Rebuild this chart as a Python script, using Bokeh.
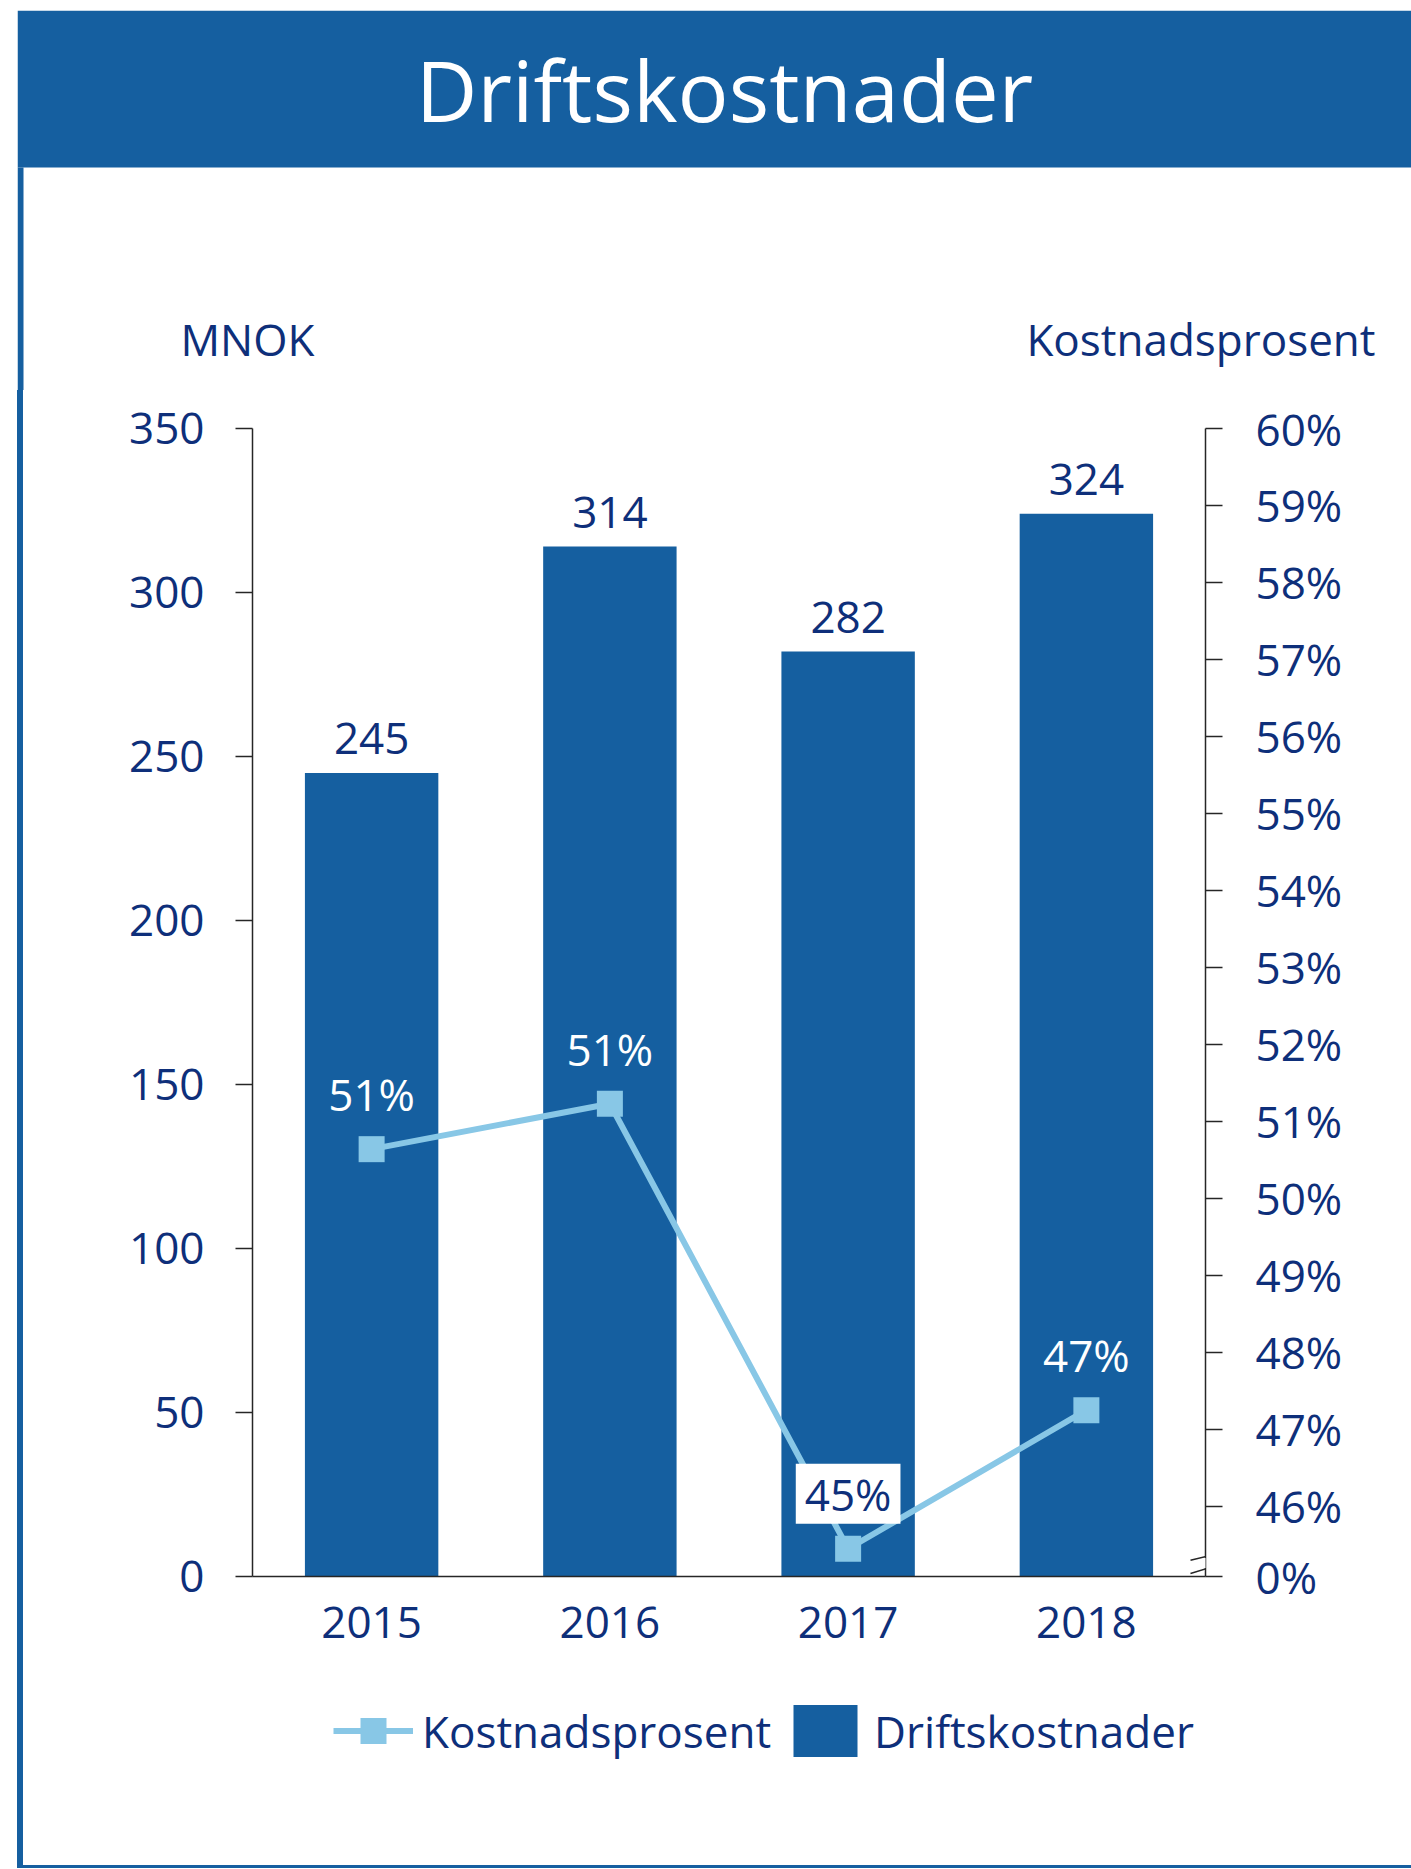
from bokeh.plotting import figure
from bokeh.models import (FactorRange, Range1d, LinearAxis, FixedTicker, CustomJSTickFormatter,
                          ColumnDataSource, Label, Legend, LegendItem, Arrow, CDSView, IndexFilter,
                          BoxAnnotation, Spacer)
from bokeh.layouts import column, row
from bokeh.embed import file_html
from bokeh.resources import INLINE
from bokeh.core.properties import value

# ---------------- data ----------------
title_text = "Driftskostnader"
years = ["2015", "2016", "2017", "2018"]
costs = [245, 314, 282, 324]                 # MNOK
cost_pct = [50.64, 51.23, 45.45, 47.25]      # Kostnadsprosent (%)
pct_labels = ["51%", "51%", "45%", "47%"]
left_ticks = [0, 50, 100, 150, 200, 250, 300, 350]
right_ticks = [46, 47, 48, 49, 50, 51, 52, 53, 54, 55, 56, 57, 58, 59, 60]
pct_axis_floor = 45.09                        # bottom of broken right axis, shown as 0%
left_axis_title = "MNOK"
right_axis_title = "Kostnadsprosent"
legend_labels = ["Kostnadsprosent", "Driftskostnader"]

# ---------------- style ----------------
BLUE = "#155fa0"
LIGHT = "#88c7e6"
NAVY = "#0e2f7a"
AXIS = "#262626"
FONT = "Open Sans"
FS = "44px"

# ---------------- header (title bar + axis titles) ----------------
HW, HH = 1394, 380
hf = figure(width=1411, height=390, x_range=Range1d(0, HW), y_range=Range1d(0, HH),
            x_axis_type=None, y_axis_type=None, toolbar_location=None, output_backend="svg",
            min_border_left=17, min_border_top=10, min_border_right=0, min_border_bottom=0,
            background_fill_color="white", border_fill_color="white", outline_line_color=None)
hf.grid.visible = False
hf.add_layout(BoxAnnotation(left=0, right=HW, bottom=HH - 157, top=HH, fill_color=BLUE,
                            fill_alpha=1, line_color=None))
hf.add_layout(BoxAnnotation(left=0, right=6, bottom=0, top=HH - 157, fill_color=BLUE,
                            fill_alpha=1, line_color=None))
hf.add_layout(Label(x=707, y=HH - 78, text=title_text, text_align="center", text_baseline="alphabetic",
                    text_font=FONT, text_font_size="85px", text_color="white"))
hf.add_layout(Label(x=163, y=52, text=left_axis_title, text_align="left", text_baseline="alphabetic",
                    text_font=FONT, text_font_size=FS, text_color=NAVY))
hf.add_layout(Label(x=1358, y=52, text=right_axis_title, text_align="right", text_baseline="alphabetic",
                    text_font=FONT, text_font_size=FS, text_color=NAVY))

# ---------------- main chart ----------------
MH = 1286
src = ColumnDataSource(dict(year=years, cost=costs, cost_label=[str(c) for c in costs],
                            pct=cost_pct, pct_label=pct_labels))

p = figure(x_range=FactorRange(factors=years), y_range=Range1d(left_ticks[0], left_ticks[-1]),
           width=1388, height=MH, toolbar_location=None, output_backend="svg",
           min_border_left=229, min_border_right=206, min_border_top=38, min_border_bottom=MH - 38 - 1148,
           background_fill_color="white", border_fill_color="white", outline_line_color=None)
p.grid.visible = False
p.extra_y_ranges = {"pct": Range1d(pct_axis_floor, right_ticks[-1])}

bar_r = p.vbar(x="year", top="cost", width=0.56, source=src, fill_color=BLUE, line_color=None)
line_r = p.line(x="year", y="pct", source=src, y_range_name="pct", line_color=LIGHT, line_width=6)
sc_r = p.scatter(x="year", y="pct", source=src, y_range_name="pct", marker="square", size=26,
                 fill_color=LIGHT, line_color=None)

p.text(x="year", y="cost", text="cost_label", source=src, y_offset=-34,
       text_align="center", text_baseline="alphabetic", text_font=value(FONT),
       text_font_size=FS, text_color=NAVY)

boxed = [i for i, v in enumerate(cost_pct) if v < right_ticks[0]]
plain = [i for i in range(len(cost_pct)) if i not in boxed]
p.text(x="year", y="pct", text="pct_label", source=src, view=CDSView(filter=IndexFilter(plain)),
       y_range_name="pct", y_offset=-55, text_align="center", text_baseline="alphabetic",
       text_font=value(FONT), text_font_size=FS, text_color="white")
p.text(x="year", y="pct", text="pct_label", source=src, view=CDSView(filter=IndexFilter(boxed)),
       y_range_name="pct", y_offset=-55, text_align="center", text_baseline="alphabetic",
       text_font=value(FONT), text_font_size=FS, text_color=NAVY,
       background_fill_color="white", padding=(9, 0))

# axes
xa = p.xaxis[0]
xa.axis_line_color = AXIS
xa.axis_line_width = 1.5
xa.major_tick_line_color = None
xa.minor_tick_line_color = None
xa.major_label_standoff = 24
xa.major_label_text_font = FONT
xa.major_label_text_font_size = FS
xa.major_label_text_color = NAVY

ya = p.yaxis[0]
ya.ticker = FixedTicker(ticks=left_ticks)
ya.axis_line_color = AXIS
ya.axis_line_width = 1.5
ya.major_tick_line_color = AXIS
ya.major_tick_line_width = 1.5
ya.major_tick_out = 17
ya.major_tick_in = 0
ya.minor_tick_line_color = None
ya.major_label_standoff = 31
ya.major_label_text_font = FONT
ya.major_label_text_font_size = FS
ya.major_label_text_color = NAVY

ra = LinearAxis(y_range_name="pct", ticker=FixedTicker(ticks=[pct_axis_floor] + right_ticks),
                formatter=CustomJSTickFormatter(args=dict(floor=pct_axis_floor),
                                                code="return tick <= floor + 0.01 ? '0%' : Math.round(tick) + '%';"))
ra.axis_line_color = AXIS
ra.axis_line_width = 1.5
ra.major_tick_line_color = AXIS
ra.major_tick_line_width = 1.5
ra.major_tick_out = 17
ra.major_tick_in = 0
ra.minor_tick_line_color = None
ra.major_label_standoff = 33
ra.major_label_text_font = FONT
ra.major_label_text_font_size = FS
ra.major_label_text_color = NAVY
p.add_layout(ra, "right")

# axis break marks on right axis
p.add_layout(Arrow(x_start=4.0, y_start=45.20, x_end=4.0, y_end=45.33, end=None,
                   line_color="white", line_width=4, y_range_name="pct"))
p.add_layout(Arrow(x_start=3.937, y_start=45.30, x_end=4.067, y_end=45.40, end=None,
                   line_color=AXIS, line_width=1.5, y_range_name="pct"))
p.add_layout(Arrow(x_start=3.937, y_start=45.13, x_end=4.067, y_end=45.25, end=None,
                   line_color=AXIS, line_width=1.5, y_range_name="pct"))

# ---------------- legend strip ----------------
# same series styles as legend keys only (renderers hidden, legend shows their keys)
LH = 189
lf = figure(width=1388, height=LH, x_range=FactorRange(factors=years), y_range=Range1d(0, 1),
            x_axis_type=None, y_axis_type=None, toolbar_location=None, output_backend="svg",
            min_border_left=229, min_border_right=206, min_border_top=0, min_border_bottom=0,
            background_fill_color="white", border_fill_color="white", outline_line_color=None)
lf.grid.visible = False
k_bar = lf.vbar(x="year", top="cost", width=0.56, source=src, fill_color=BLUE, line_color=None, visible=False)
k_line = lf.line(x="year", y="pct", source=src, line_color=LIGHT, line_width=6, visible=False)
k_sc = lf.scatter(x="year", y="pct", source=src, marker="square", size=26, fill_color=LIGHT,
                  line_color=None, visible=False)
legend = Legend(items=[LegendItem(label=legend_labels[0], renderers=[k_line, k_sc]),
                       LegendItem(label=legend_labels[1], renderers=[k_bar])],
                orientation="horizontal", location=(81, 102), glyph_width=80, glyph_height=65,
                label_standoff=9, spacing=14, padding=0, margin=0, border_line_color=None,
                background_fill_alpha=0, inactive_fill_alpha=0, label_text_font=FONT,
                label_text_font_size=FS, label_text_color=NAVY)
lf.add_layout(legend)

body_h = MH + LH
layout = column(
    hf,
    row(Spacer(width=17, height=body_h), Spacer(width=6, height=body_h, styles={"background-color": BLUE}),
        column(p, lf)),
    row(Spacer(width=17, height=3), Spacer(width=1394, height=3, styles={"background-color": BLUE})),
)
open("out.html", "w").write(file_html(layout, INLINE))
